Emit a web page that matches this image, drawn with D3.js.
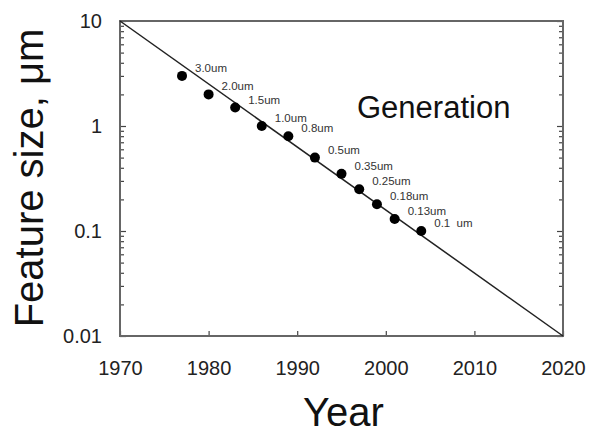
<!DOCTYPE html>
<html>
<head>
<meta charset="utf-8">
<script src="https://cdn.jsdelivr.net/npm/d3@7"></script>
<style>
  body { margin: 0; background: #fff; }
  svg { display: block; }
  text { font-family: "Liberation Sans", Arial, Helvetica, sans-serif; }
</style>
</head>
<body>
<svg id="chart"></svg>
<script>
// generation nodes
var years = [1977, 1980, 1983, 1986, 1989, 1992, 1995, 1997, 1999, 2001, 2004];
var sizes = [3.0, 2.0, 1.5, 1.0, 0.8, 0.5, 0.35, 0.25, 0.18, 0.13, 0.1];
var labels = ["3.0um", "2.0um", "1.5um", "1.0um", "0.8um", "0.5um", "0.35um", "0.25um", "0.18um", "0.13um", "0.1\u00a0\u00a0um"];

// trend line end points
var trendYears = [1970, 2020];
var trendSizes = [10, 0.01];

var xTicks = [1970, 1980, 1990, 2000, 2010, 2020];
var yTicks = [0.01, 0.1, 1, 10];
var yTickLabels = ["0.01", "0.1", "1", "10"];

var width = 591, height = 430;
var margin = {left: 120, right: 563, top: 21, bottom: 336};

var svg = d3.select("#chart")
    .attr("width", width)
    .attr("height", height);

var x = d3.scaleLinear().domain([1970, 2020]).range([margin.left, margin.right]);
var y = d3.scaleLog().domain([0.01, 10]).range([margin.bottom, margin.top]);

// minor log ticks
var minor = y.ticks().filter(function(v) { return yTicks.indexOf(v) < 0; });

// axes
svg.append("g")
    .attr("transform", "translate(0," + margin.bottom + ")")
    .call(d3.axisBottom(x).tickValues(xTicks).tickFormat(d3.format("d"))
        .tickSizeInner(-5).tickSizeOuter(0).tickPadding(25));

svg.append("g")
    .attr("transform", "translate(" + margin.left + ",0)")
    .call(d3.axisLeft(y).tickValues(yTicks)
        .tickFormat(function(d, i) { return yTickLabels[i]; })
        .tickSizeInner(-6).tickSizeOuter(0).tickPadding(18));

svg.append("g")
    .attr("transform", "translate(" + margin.left + ",0)")
    .call(d3.axisLeft(y).tickValues(minor).tickFormat("")
        .tickSizeInner(-4).tickSizeOuter(0));

svg.append("g")
    .attr("transform", "translate(" + margin.right + ",0)")
    .call(d3.axisRight(y).tickValues(yTicks).tickFormat("")
        .tickSizeInner(-6).tickSizeOuter(0));

svg.append("g")
    .attr("transform", "translate(" + margin.right + ",0)")
    .call(d3.axisRight(y).tickValues(minor).tickFormat("")
        .tickSizeInner(-4).tickSizeOuter(0));

svg.selectAll(".domain").remove();
svg.selectAll(".tick line").attr("stroke", "#444").attr("stroke-width", 1.2);
svg.selectAll(".tick text")
    .attr("font-size", 20)
    .attr("fill", "#222")
    .attr("font-family", "\"Liberation Sans\", Arial, sans-serif");

// frame
svg.append("rect")
    .attr("x", margin.left).attr("y", margin.top)
    .attr("width", margin.right - margin.left).attr("height", margin.bottom - margin.top)
    .attr("fill", "none")
    .attr("stroke", "#666")
    .attr("stroke-width", 2);

// trend line
var trend = d3.line()
    .x(function(d, i) { return x(trendYears[i]); })
    .y(function(d, i) { return y(trendSizes[i]); });

svg.append("path")
    .datum(trendYears)
    .attr("d", trend)
    .attr("fill", "none")
    .attr("stroke", "#222")
    .attr("stroke-width", 1.5);

// points
svg.selectAll("circle.node")
    .data(years)
    .enter().append("circle")
    .attr("class", "node")
    .attr("cx", function(d) { return x(d); })
    .attr("cy", function(d, i) { return y(sizes[i]); })
    .attr("r", 5)
    .attr("fill", "#000");

// node labels
svg.selectAll("text.node-label")
    .data(years)
    .enter().append("text")
    .attr("class", "node-label")
    .attr("x", function(d) { return x(d) + 13; })
    .attr("y", function(d, i) { return y(sizes[i]) - 4; })
    .attr("font-size", 11.5)
    .attr("fill", "#333")
    .text(function(d, i) { return labels[i]; });

svg.append("text")
    .attr("x", 357)
    .attr("y", 118)
    .attr("font-size", 31)
    .attr("fill", "#111")
    .text("Generation");

// axis titles
svg.append("text")
    .attr("x", (margin.left + margin.right) / 2 + 2)
    .attr("y", 426)
    .attr("text-anchor", "middle")
    .attr("font-size", 40)
    .attr("fill", "#111")
    .text("Year");

svg.append("text")
    .attr("transform", "translate(43,178) rotate(-90)")
    .attr("text-anchor", "middle")
    .attr("font-size", 40)
    .attr("fill", "#111")
    .text("Feature size, \u03bcm");
</script>
</body>
</html>
